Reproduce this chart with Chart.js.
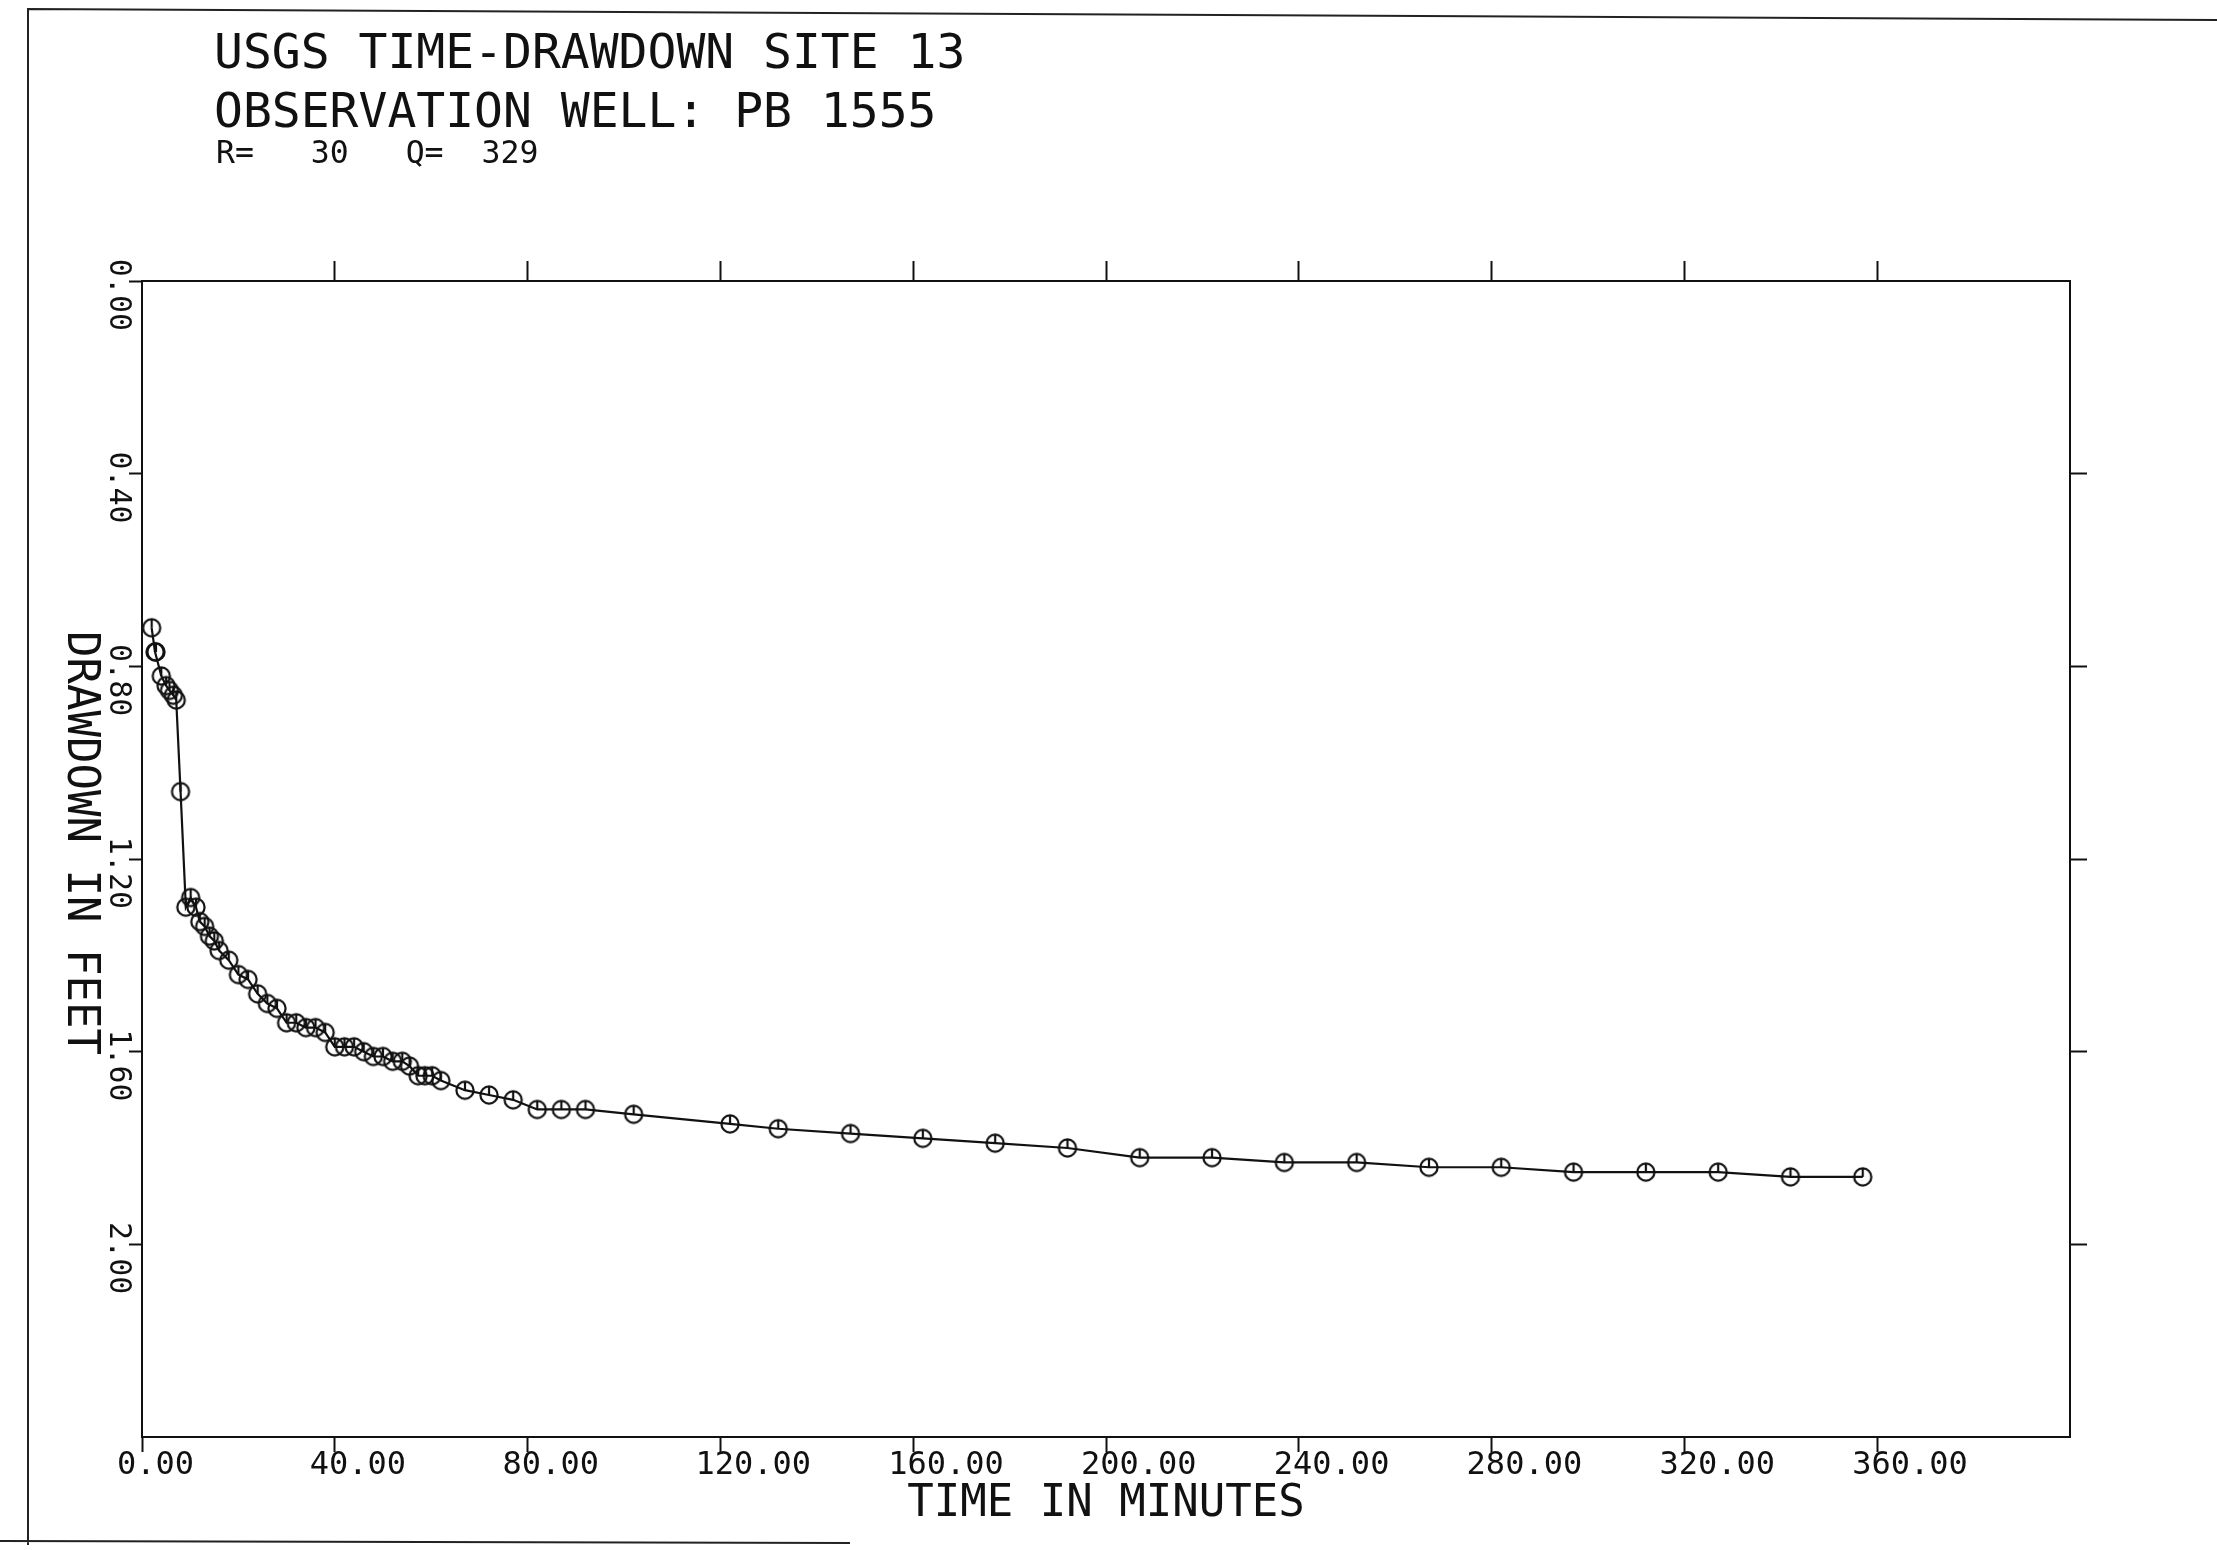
<!DOCTYPE html>
<html>
<head>
<meta charset="utf-8">
<script src="https://cdn.jsdelivr.net/npm/chart.js@4.4.1/dist/chart.umd.min.js"></script>
<style>
  html, body { margin: 0; padding: 0; background: #ffffff; overflow: hidden; }
  #wrap { position: relative; width: 2217px; height: 1550px; }
</style>
</head>
<body>
<div id="wrap"><canvas id="c"></canvas></div>
<script>
// ---- data ----
const timeMinutes = [2, 2.7, 2.9, 4, 5, 5.7, 6.5, 7.1, 8, 9.1,
  10.1, 11.2, 12, 13, 14, 15, 16, 18, 20, 22,
  24, 26, 28, 30, 32, 34, 36, 38, 40, 42,
  44, 46, 48, 50, 52, 54, 55.5, 57.3, 58.7, 60.2,
  62, 67, 72, 77, 82, 87, 92, 102, 122, 132,
  147, 162, 177, 192, 207, 222, 237, 252, 267, 282,
  297, 312, 327, 342, 357];
const drawdownFeet = [0.72, 0.77, 0.77, 0.82, 0.84, 0.85, 0.86, 0.87, 1.06, 1.30,
  1.28, 1.30, 1.33, 1.34, 1.36, 1.37, 1.39, 1.41, 1.44, 1.45,
  1.48, 1.50, 1.51, 1.54, 1.54, 1.55, 1.55, 1.56, 1.59, 1.59,
  1.59, 1.60, 1.61, 1.61, 1.62, 1.62, 1.63, 1.65, 1.65, 1.65,
  1.66, 1.68, 1.69, 1.70, 1.72, 1.72, 1.72, 1.73, 1.75, 1.76,
  1.77, 1.78, 1.79, 1.80, 1.82, 1.82, 1.83, 1.83, 1.84, 1.84,
  1.85, 1.85, 1.85, 1.86, 1.86];
const xTickStep = 40, xMin = 0, xMax = 400;
const yTickStep = 0.4, yMin = 0, yMax = 2.4;
const titleLines = ['USGS TIME-DRAWDOWN SITE 13', 'OBSERVATION WELL: PB 1555'];
const paramLine = 'R=   30   Q=  329';
const xTitle = 'TIME IN MINUTES';
const yTitle = 'DRAWDOWN IN FEET';

const INK = '#111111';
const MONO = "'DejaVu Sans Mono', 'Liberation Mono', monospace";

// plotter-style marker: open circle with a pen stroke from its top to the centre
const marker = document.createElement('canvas');
marker.width = 24; marker.height = 24;
(function () {
  const c = marker.getContext('2d');
  c.strokeStyle = INK; c.lineWidth = 2.2;
  c.beginPath(); c.arc(12, 12, 8.6, 0, Math.PI * 2); c.stroke();
  c.beginPath(); c.moveTo(12, 3.5); c.lineTo(12, 12); c.stroke();
})();

const near = (a, b) => Math.abs(a - b) < 1e-6;

const decorations = {
  id: 'decorations',
  beforeDraw(chart) {
    const ctx = chart.ctx;
    ctx.save();
    ctx.fillStyle = '#ffffff';
    ctx.fillRect(0, 0, chart.width, chart.height);
    // edges of the scanned sheet
    ctx.strokeStyle = '#222';
    ctx.lineWidth = 2;
    ctx.beginPath();
    ctx.moveTo(28, 1545); ctx.lineTo(28, 9); ctx.lineTo(2217, 20);
    ctx.moveTo(0, 1541); ctx.lineTo(850, 1543);
    ctx.stroke();
    ctx.restore();
  },
  afterDraw(chart) {
    const ctx = chart.ctx;
    ctx.save();
    ctx.fillStyle = INK;
    ctx.textAlign = 'left';
    ctx.textBaseline = 'alphabetic';
    ctx.font = '48px ' + MONO;
    ctx.fillText(titleLines[0], 214, 68);
    ctx.fillText(titleLines[1], 214, 127);
    ctx.font = '31.5px ' + MONO;
    ctx.fillText(paramLine, 216, 163);
    // y axis title, reading top to bottom
    ctx.translate(79, 843);
    ctx.rotate(Math.PI / 2);
    ctx.textAlign = 'center';
    ctx.textBaseline = 'middle';
    ctx.font = '44px ' + MONO;
    ctx.fillText(yTitle, 0, 0);
    ctx.restore();
  }
};

const points = timeMinutes.map((t, i) => ({ x: t, y: drawdownFeet[i] }));

new Chart(document.getElementById('c'), {
  type: 'line',
  data: {
    datasets: [{
      data: points,
      borderColor: INK,
      borderWidth: 2.2,
      tension: 0,
      fill: false,
      pointStyle: marker,
      pointRadius: 9,
      pointHoverRadius: 9,
      xAxisID: 'x',
      yAxisID: 'y'
    }]
  },
  options: {
    responsive: true,
    maintainAspectRatio: false,
    devicePixelRatio: 1,
    animation: false,
    events: [],
    layout: { padding: { left: 82, right: 0, top: 0, bottom: 0 } },
    plugins: { legend: { display: false }, tooltip: { enabled: false }, title: { display: false } },
    scales: {
      x: {
        type: 'linear', position: 'bottom', min: xMin, max: xMax,
        afterFit: s => { s.height = 113; },
        border: { display: true, color: INK, width: 2 },
        grid: {
          drawOnChartArea: false, drawTicks: true, tickLength: 15, tickWidth: 2,
          tickColor: c => (c.tick && near(c.tick.value, xMax)) ? 'rgba(0,0,0,0)' : INK
        },
        ticks: {
          stepSize: xTickStep, autoSkip: false, maxRotation: 0, minRotation: 0,
          align: 'start', labelOffset: -25, padding: -2, color: INK,
          font: { family: MONO, size: 32, lineHeight: 1 },
          callback: v => near(v, xMax) ? '' : Number(v).toFixed(2)
        },
        title: {
          display: true, text: xTitle, color: INK,
          font: { family: MONO, size: 44, lineHeight: 1 },
          padding: { top: 0, bottom: 23 }
        }
      },
      x2: {
        type: 'linear', position: 'top', min: xMin, max: xMax,
        afterFit: s => { s.height = 281; },
        border: { display: true, color: INK, width: 2 },
        grid: {
          drawOnChartArea: false, drawTicks: true, tickLength: 20, tickWidth: 2,
          tickColor: c => (c.tick && (near(c.tick.value, xMin) || near(c.tick.value, xMax))) ? 'rgba(0,0,0,0)' : INK
        },
        ticks: { stepSize: xTickStep, display: false, autoSkip: false }
      },
      y: {
        type: 'linear', position: 'left', reverse: true, min: yMin, max: yMax,
        afterFit: s => { s.width = 60; },
        border: { display: true, color: INK, width: 2 },
        grid: {
          drawOnChartArea: false, drawTicks: true, tickLength: 13, tickWidth: 2,
          tickColor: c => (c.tick && near(c.tick.value, yMax)) ? 'rgba(0,0,0,0)' : INK
        },
        ticks: {
          stepSize: yTickStep, autoSkip: false, minRotation: -90, maxRotation: -90,
          crossAlign: 'near', padding: 11, labelOffset: 50, color: INK,
          font: { family: MONO, size: 30, lineHeight: 1 },
          callback: v => near(v, yMax) ? '' : Number(v).toFixed(2)
        }
      },
      y2: {
        type: 'linear', position: 'right', reverse: true, min: yMin, max: yMax,
        afterFit: s => { s.width = 147; },
        border: { display: true, color: INK, width: 2 },
        grid: {
          drawOnChartArea: false, drawTicks: true, tickLength: 17, tickWidth: 2,
          tickColor: c => (c.tick && (near(c.tick.value, yMin) || near(c.tick.value, yMax))) ? 'rgba(0,0,0,0)' : INK
        },
        ticks: { stepSize: yTickStep, display: false, autoSkip: false }
      }
    }
  },
  plugins: [decorations]
});
</script>
</body>
</html>
